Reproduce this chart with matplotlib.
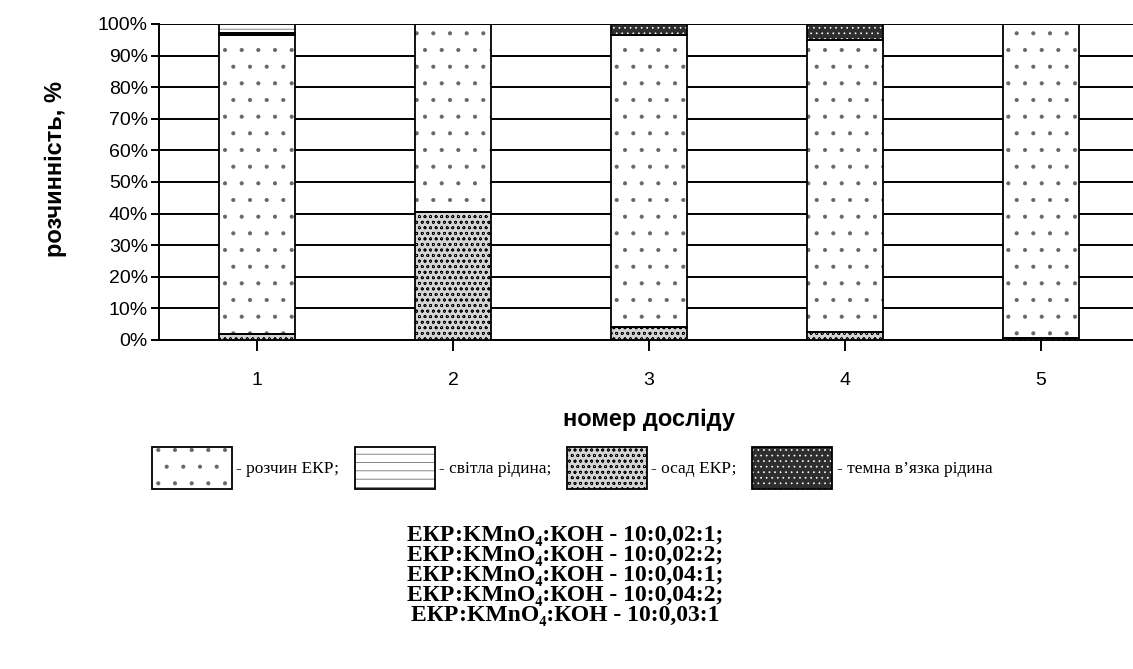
import numpy as np
import matplotlib.pyplot as plt
from matplotlib.patches import Patch

plt.rcParams['hatch.linewidth'] = 0.5

experiments = ["1", "2", "3", "4", "5"]
# shares of phases, %, bottom to top
osad = [2.0, 40.5, 4.0, 2.5, 0.5]
rozchyn = [94.5, 59.5, 92.5, 92.5, 99.5]
temna = [0.5, 0.0, 3.5, 5.0, 0.0]
svitla = [3.0, 0.0, 0.0, 0.0, 0.0]

yticks = [0, 10, 20, 30, 40, 50, 60, 70, 80, 90, 100]

legend_labels = ["- розчин ЕКР;", "- світла рідина;", "- осад ЕКР;", "- темна в\u2019язка рідина"]
ratios = ["10:0,02:1;", "10:0,02:2;", "10:0,04:1;", "10:0,04:2;", "10:0,03:1"]

# face colour, hatch colour, hatch
styles = {
    "rozchyn": ("white", "#666666", "."),
    "svitla": ("white", "#555555", "--"),
    "osad": ("#d4d4d4", "black", "ooo"),
    "temna": ("#2e2e2e", "white", "..."),
}

sans = ["Liberation Sans", "DejaVu Sans"]
serif = ["Liberation Serif", "DejaVu Serif"]

fig = plt.figure(figsize=(11.33, 6.69), dpi=100)
ax = fig.add_axes([159 / 1133, 1 - 340 / 669, 980 / 1133, 316 / 669])

x = np.arange(1, len(experiments) + 1)
width = 0.39
bottom = np.zeros(len(x))
for key, vals in [("osad", osad), ("rozchyn", rozchyn), ("temna", temna), ("svitla", svitla)]:
    face, hcol, hatch = styles[key]
    ax.bar(x, vals, width, bottom=bottom, color=face, edgecolor=hcol,
           hatch=hatch, linewidth=0, zorder=3)
    ax.bar(x, vals, width, bottom=bottom, fill=False, edgecolor="black",
           linewidth=1.3, zorder=4)
    bottom += np.array(vals)

ax.set_xlim(0.5, 5.5)
ax.set_ylim(0, 100)
ax.set_yticks(yticks)
ax.set_yticklabels([f"{t}%" for t in yticks], family=sans, fontsize=14)
ax.set_xticks(x)
ax.set_xticklabels(experiments, family=sans, fontsize=14)
ax.yaxis.grid(True, color="black", linewidth=1.4, zorder=0)
ax.set_axisbelow(True)
for s in ["top", "right"]:
    ax.spines[s].set_visible(False)
ax.spines["left"].set_linewidth(1.4)
ax.spines["bottom"].set_linewidth(1.4)
ax.tick_params(axis="y", length=6, width=1.4, pad=2)
ax.tick_params(axis="x", length=8, width=1.4, pad=15)

ax.set_xlabel("номер досліду", family=sans, fontsize=17, fontweight="bold", labelpad=14)
ax.set_ylabel("розчинність, %", family=sans, fontsize=17, fontweight="bold", labelpad=22, y=0.54)

handles = []
for key in ["rozchyn", "svitla", "osad", "temna"]:
    face, hcol, hatch = styles[key]
    p1 = Patch(facecolor=face, edgecolor=hcol, hatch=hatch, linewidth=0)
    p2 = Patch(fill=False, edgecolor="black", linewidth=1.3)
    handles.append((p1, p2))

fig.legend(handles, legend_labels, loc="center", bbox_to_anchor=(0.505, 1 - 468 / 669),
           ncol=4, frameon=False, prop={"family": serif, "size": 12.5},
           handlelength=4.6, handleheight=3.4, handletextpad=0.25, columnspacing=0.9)

for i, r in enumerate(ratios):
    y = 1 - (536 + 20 * i) / 669
    fig.text(0.499, y, "ЕКР:KMnO\u2084:КОН - " + r, ha="center", va="center",
             family=serif, fontsize=17, fontweight="bold")

fig.savefig("out.png", dpi=100)
